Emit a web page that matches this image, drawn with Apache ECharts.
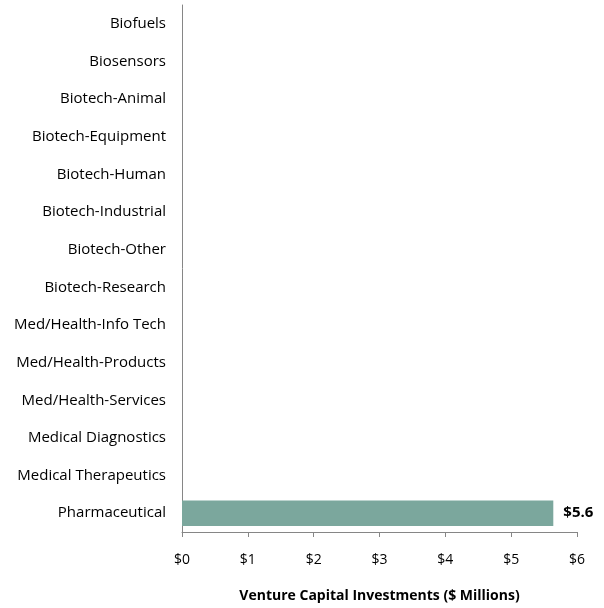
<!DOCTYPE html>
<html>
<head>
<meta charset="utf-8">
<script src="https://cdn.jsdelivr.net/npm/echarts@6/dist/echarts.min.js"></script>
<style>
  html, body { margin: 0; padding: 0; background: #fff; }
  #main { width: 604px; height: 608px; }
</style>
</head>
<body>
<div id="main"></div>
<script>
// categories top to bottom
var categories = [
  'Biofuels', 'Biosensors', 'Biotech-Animal', 'Biotech-Equipment',
  'Biotech-Human', 'Biotech-Industrial', 'Biotech-Other', 'Biotech-Research',
  'Med/Health-Info Tech', 'Med/Health-Products', 'Med/Health-Services',
  'Medical Diagnostics', 'Medical Therapeutics', 'Pharmaceutical'
];
// $ millions, only pharma got anything
var values = [0, 0, 0, 0, 0, 0, 0, 0, 0, 0, 0, 0, 0, 5.64];
var xTicks = [0, 1, 2, 3, 4, 5, 6];

var font = '"Open Sans", Lato, sans-serif';
var chart = echarts.init(document.getElementById('main'));
chart.setOption({
  animation: false,
  grid: { left: 182, right: 27, top: 5, bottom: 76, containLabel: false },
  xAxis: {
    type: 'value',
    min: xTicks[0],
    max: xTicks[xTicks.length - 1],
    interval: 1,
    name: 'Venture Capital Investments ($ Millions)',
    nameLocation: 'middle',
    nameGap: 57,
    nameTextStyle: { fontFamily: font, fontSize: 14, fontWeight: 'bold', color: '#000' },
    axisLine: { show: true, lineStyle: { color: '#868686', width: 1 } },
    axisTick: { show: true, length: 5, lineStyle: { color: '#868686' } },
    splitLine: { show: false },
    axisLabel: {
      margin: 21,
      fontFamily: font, fontSize: 14, color: '#000',
      formatter: function (v) { return '$' + v; }
    }
  },
  yAxis: {
    type: 'category',
    inverse: true,
    data: categories,
    axisLine: { show: true, lineStyle: { color: '#868686', width: 1 } },
    axisTick: { show: false },
    axisLabel: { margin: 16, fontFamily: font, fontSize: 15, color: '#000' }
  },
  series: [{
    type: 'bar',
    data: values,
    barCategoryGap: '32%',
    itemStyle: { color: '#7BA79D' },
    label: {
      show: true,
      position: 'right',
      distance: 10,
      fontFamily: font, fontSize: 15, fontWeight: 'bold', color: '#000',
      formatter: function (p) { return p.value ? '$' + p.value.toFixed(1) : ''; }
    }
  }]
});
</script>
</body>
</html>
